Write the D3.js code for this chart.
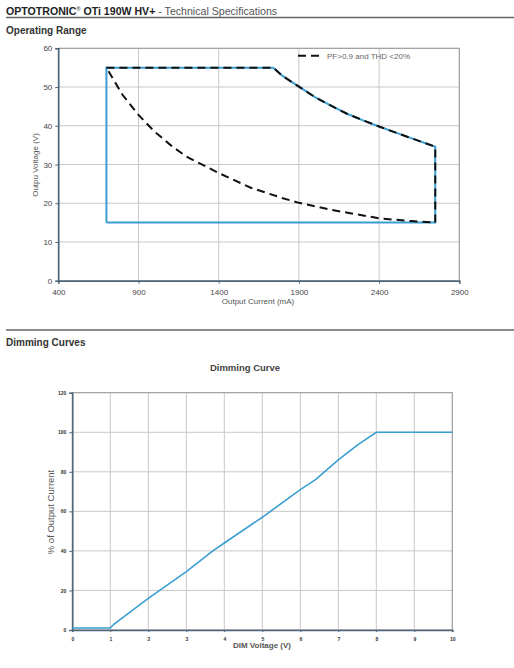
<!DOCTYPE html>
<html><head><meta charset="utf-8">
<script src="https://cdn.jsdelivr.net/npm/d3@7"></script>
<style>body{margin:0;background:#fff;font-family:"Liberation Sans",Arial,sans-serif}</style>
</head><body><svg id="c" width="514" height="668"></svg>
<script>
// ---- Operating Range data ----
const opXTicks = [400, 900, 1400, 1900, 2400, 2900];
const opYTicks = [0, 10, 20, 30, 40, 50, 60];
const opBlueBox = [[700,15],[700,55],[1740,55],[1800,52.8],[1900,50.1],[2000,47.4],[2100,45.2],[2200,43.1],[2300,41.4],[2400,39.8],[2500,38.3],[2600,36.8],[2750,34.6],[2750,15],[700,15]];
const opDashed = [[700,55],[1740,55],[1800,52.8],[1900,50.1],[2000,47.4],[2100,45.2],[2200,43.1],[2300,41.4],[2400,39.8],[2500,38.3],[2600,36.8],[2750,34.6],[2750,15],[2600,15.4],[2400,16.1],[2100,18.3],[1900,20.1],[1800,21.3],[1600,24],[1400,27.8],[1200,32],[1100,35],[1000,38.5],[900,42.8],[800,48],[750,51.5],[700,55]];
const opLegend = "PF>0.9 and THD <20%";
// ---- Dimming data ----
const dimXTicks = [0,1,2,3,4,5,6,7,8,9,10];
const dimYTicks = [0,20,40,60,80,100,120];
const dimCurve = [[0,1],[1,1],[1.1,3],[2,16],[3,29.5],[3.7,40],[4,44],[5,57],[6,71],[6.4,76],[7,86],[7.5,93.5],[8,100],[10,100]];

const svg = d3.select("#c");
const blue = "#3a9fd0", gridC = "#c8c8c8", axisC = "#4d6678", txtC = "#444";

// header
const h = svg.append("text").attr("x",6).attr("y",14.5).attr("font-size",10.6);
h.append("tspan").attr("font-weight","bold").attr("fill","#222").text("OPTOTRONIC");
h.append("tspan").attr("font-size",5.5).attr("dy",-4).attr("fill","#222").text("®");
h.append("tspan").attr("dy",4).attr("font-weight","bold").attr("fill","#222").text(" OTi 190W HV+");
h.append("tspan").attr("fill","#555").text(" - Technical Specifications");
svg.append("line").attr("x1",6).attr("x2",514).attr("y1",17.5).attr("y2",17.5).attr("stroke","#666").attr("stroke-width",1.5);
svg.append("text").attr("x",6).attr("y",33.5).attr("font-size",10).attr("font-weight","bold").attr("fill","#333").text("Operating Range");

// ---- chart 1 ----
{
  const L=58.3,R=459.3,T=48.3,B=280.7;
  const x=d3.scaleLinear().domain([400,2900]).range([L,R]);
  const y=d3.scaleLinear().domain([0,60]).range([B,T]);
  const g=svg.append("g");
  g.selectAll(".gx").data(opXTicks).join("line").attr("x1",d=>x(d)).attr("x2",d=>x(d)).attr("y1",T).attr("y2",B).attr("stroke",gridC).attr("stroke-width",1);
  g.selectAll(".gy").data(opYTicks).join("line").attr("x1",L).attr("x2",R).attr("y1",d=>y(d)).attr("y2",d=>y(d)).attr("stroke",gridC).attr("stroke-width",1);
  g.append("rect").attr("x",L).attr("y",T).attr("width",R-L).attr("height",B-T).attr("fill","none").attr("stroke","#999").attr("stroke-width",1);
  const ax=g.append("g").attr("transform",`translate(0,${B})`).call(d3.axisBottom(x).tickValues(opXTicks).tickSize(3).tickFormat(d3.format("d")));
  const ay=g.append("g").attr("transform",`translate(${L},0)`).call(d3.axisLeft(y).tickValues(opYTicks).tickSize(3));
  [ax,ay].forEach(a=>{a.select(".domain").attr("stroke",axisC).attr("stroke-width",1.5);a.selectAll(".tick line").attr("stroke",axisC);a.selectAll("text").attr("font-size",8).attr("fill",txtC).attr("font-family","Liberation Sans, Arial");});
  ax.selectAll("text").attr("dy","1.05em");
  const line=d3.line().x(d=>x(d[0])).y(d=>y(d[1]));
  g.append("path").attr("d",line(opBlueBox)).attr("fill","none").attr("stroke",blue).attr("stroke-width",2);
  g.append("path").attr("d",line(opDashed)).attr("fill","none").attr("stroke","#111").attr("stroke-width",2).attr("stroke-dasharray","8,5");
  g.append("line").attr("x1",298).attr("x2",323).attr("y1",55.7).attr("y2",55.7).attr("stroke","#111").attr("stroke-width",2).attr("stroke-dasharray","8,5");
  g.append("text").attr("x",327).attr("y",58.5).attr("font-size",8).attr("fill","#666").text(opLegend);
  g.append("text").attr("x",258).attr("y",303.5).attr("text-anchor","middle").attr("font-size",8).attr("fill","#555").text("Output Current (mA)");
  g.append("text").attr("transform","translate(38,165) rotate(-90)").attr("text-anchor","middle").attr("font-size",8).attr("fill","#555").text("Outpu Voltage (V)");
}

// section 2
svg.append("line").attr("x1",6).attr("x2",514).attr("y1",330).attr("y2",330).attr("stroke","#666").attr("stroke-width",1.5);
svg.append("text").attr("x",6).attr("y",346).attr("font-size",10).attr("font-weight","bold").attr("fill","#333").text("Dimming Curves");
svg.append("text").attr("x",245).attr("y",370.5).attr("text-anchor","middle").attr("font-size",9.5).attr("font-weight","bold").attr("fill","#444").text("Dimming Curve");

// ---- chart 2 ----
{
  const L=72.3,R=452.3,T=392.7,B=630;
  const x=d3.scaleLinear().domain([0,10]).range([L,R]);
  const y=d3.scaleLinear().domain([0,120]).range([B,T]);
  const g=svg.append("g");
  g.selectAll(".gx").data(dimXTicks).join("line").attr("x1",d=>x(d)).attr("x2",d=>x(d)).attr("y1",T).attr("y2",B).attr("stroke",gridC).attr("stroke-width",1);
  g.selectAll(".gy").data(dimYTicks).join("line").attr("x1",L).attr("x2",R).attr("y1",d=>y(d)).attr("y2",d=>y(d)).attr("stroke",gridC).attr("stroke-width",1);
  g.append("rect").attr("x",L).attr("y",T).attr("width",R-L).attr("height",B-T).attr("fill","none").attr("stroke","#999").attr("stroke-width",1);
  const ax=g.append("g").attr("transform",`translate(0,${B})`).call(d3.axisBottom(x).tickValues(dimXTicks).tickSize(2));
  const ay=g.append("g").attr("transform",`translate(${L},0)`).call(d3.axisLeft(y).tickValues(dimYTicks).tickSize(3));
  [ax,ay].forEach(a=>{a.select(".domain").attr("stroke",axisC).attr("stroke-width",1.5);a.selectAll(".tick line").attr("stroke",axisC);a.selectAll("text").attr("font-size",5).attr("font-weight","bold").attr("fill","#333").attr("font-family","Liberation Sans, Arial");});
  ax.selectAll("text").attr("dy","1.2em");
  const line=d3.line().x(d=>x(d[0])).y(d=>y(d[1]));
  g.append("path").attr("d",line(dimCurve)).attr("fill","none").attr("stroke",blue).attr("stroke-width",1.6);
  g.append("text").attr("x",262).attr("y",648).attr("text-anchor","middle").attr("font-size",8).attr("font-weight","bold").attr("fill","#555").text("DIM Voltage (V)");
  g.append("text").attr("transform","translate(54,512) rotate(-90)").attr("text-anchor","middle").attr("font-size",9.5).attr("fill","#555").text("% of Output Current");
}
</script></body></html>
